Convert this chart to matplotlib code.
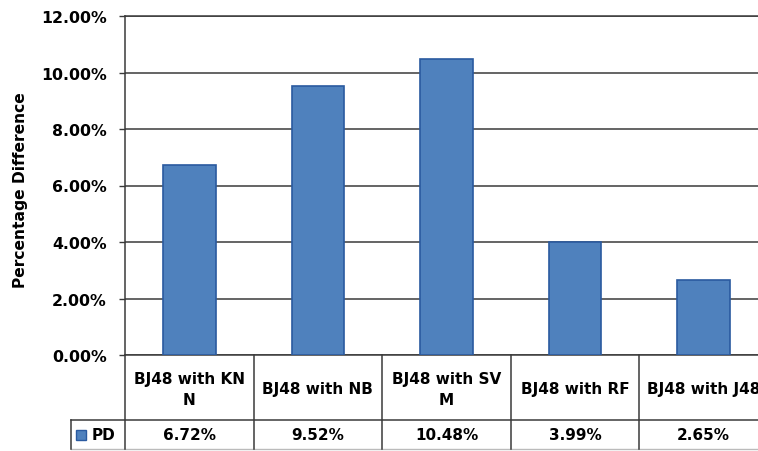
import matplotlib.pyplot as plt
import matplotlib.transforms as mtransforms
from matplotlib.ticker import PercentFormatter

# percentage difference of BJ48 against each of the other classifiers
labels = ["BJ48 with KN\nN", "BJ48 with NB", "BJ48 with SV\nM", "BJ48 with RF", "BJ48 with J48"]
pd_values = [6.72, 9.52, 10.48, 3.99, 2.65]
series_name = "PD"
yticks = [0, 2, 4, 6, 8, 10, 12]

bar_color = "#4F81BD"
edge_color = "#2A5AA0"
line_color = "#3A3A3A"

plt.rcParams["font.family"] = "DejaVu Sans"
plt.rcParams["font.weight"] = "bold"

fig = plt.figure(figsize=(7.58, 4.52), dpi=100)
W, H = 758, 452
# plot area runs a little past the right edge of the canvas
ax = fig.add_axes([125 / W, 1 - 356 / H, 643 / W, 339 / H])

x = range(len(pd_values))
ax.bar(x, pd_values, width=0.41, color=bar_color, edgecolor=edge_color, linewidth=1.2, zorder=3)

ax.set_xlim(-0.5, len(pd_values) - 0.5)
ax.set_ylim(0, 12)
ax.set_yticks(yticks)
ax.yaxis.set_major_formatter(PercentFormatter(xmax=100, decimals=2))
ax.tick_params(axis="y", length=4, width=1, color=line_color, pad=9, labelsize=11.3)
ax.tick_params(axis="x", bottom=False, labelbottom=False)
ax.grid(axis="y", color=line_color, linewidth=1.1, zorder=0)
for s in ax.spines.values():
    s.set_color(line_color)
    s.set_linewidth(1.1)

ax.set_ylabel("Percentage Difference", fontsize=11.2, fontweight="bold")
ax.yaxis.set_label_coords(-0.162, 0.49)
ax.yaxis.label.set_va("center")

# data table under the plot
blend = mtransforms.blended_transform_factory(ax.transData, ax.transAxes)
row1 = -65 / 339
row2 = -94 / 339
n = len(pd_values)
lkw = dict(color=line_color, linewidth=1.1, transform=blend, clip_on=False)
ax.plot([-0.92, n - 0.5], [row1, row1], **lkw)
ax.plot([-0.92, n - 0.5], [row2, row2], color="#BBBBBB", linewidth=1.0, transform=blend, clip_on=False)
for b in range(n + 1):
    ax.plot([b - 0.5, b - 0.5], [0, row2], **lkw)
ax.plot([-0.92, -0.92], [row1, row2], **lkw)

for i, (lab, v) in enumerate(zip(labels, pd_values)):
    ax.text(i, row1 / 2 - 0.004, lab, transform=blend, ha="center", va="center",
            fontsize=11, linespacing=1.55, clip_on=False)
    ax.text(i, (row1 + row2) / 2, f"{v:.2f}%", transform=blend, ha="center", va="center",
            fontsize=11, clip_on=False)

ax.plot([-0.845], [(row1 + row2) / 2], marker="s", markersize=6.5, color=bar_color,
        markeredgecolor=edge_color, transform=blend, clip_on=False)
ax.text(-0.665, (row1 + row2) / 2, series_name, transform=blend, ha="center", va="center",
        fontsize=11)

fig.savefig("out.png", dpi=100)
